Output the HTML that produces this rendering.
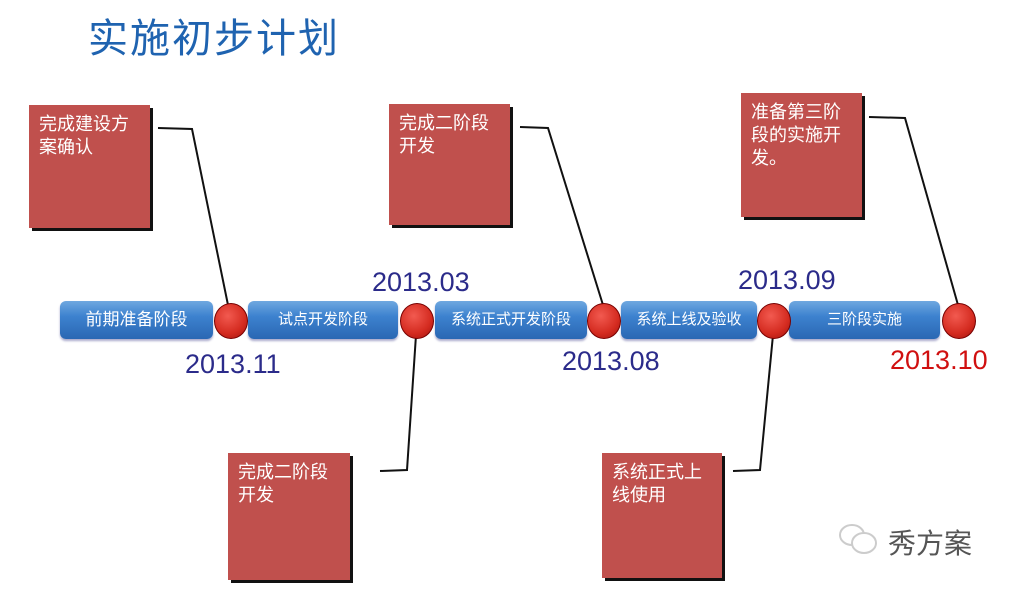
<!DOCTYPE html>
<html><head><meta charset="utf-8"><style>
body{margin:0;width:1021px;height:590px;background:#fff;position:relative;overflow:hidden;font-family:"Liberation Sans","Noto Sans CJK SC",sans-serif}
.t{position:absolute;white-space:nowrap}
.box{position:absolute;background:#c0504d;box-shadow:3px 3px 0 #111;color:#fff;font-size:18px;line-height:23px;padding:8px 10px;box-sizing:border-box;white-space:nowrap}
.bar{position:absolute;top:301px;height:38px;border-radius:6px;background:linear-gradient(#6fa8e0,#3d82cf 40%,#2a67b3);color:#fff;font-size:15px;text-align:center;line-height:38px;box-shadow:0 2px 2px #aac}
.dot{position:absolute;width:32px;height:34px;border-radius:50%;background:radial-gradient(circle at 40% 35%,#f25a50,#d42b20 60%,#a0120c);top:303px;border:1px solid #700}
.d{position:absolute;font-size:27px;color:#2b2b8a}
</style></head><body>
<div class="t" style="left:88px;top:6px;font-size:40px;color:#1f63b0;letter-spacing:2px">实施初步计划</div>
<svg width="1021" height="590" style="position:absolute;left:0;top:0">
<g stroke="#111" stroke-width="2" fill="none">
<polyline points="158,128 192,129 228,305"/>
<polyline points="520,127 548,128 603,305"/>
<polyline points="869,117 905,118 958,305"/>
<polyline points="416,335 407,470 380,471"/>
<polyline points="773,335 760,470 733,471"/>
</g></svg>
<div class="box" style="left:29px;top:105px;width:121px;height:123px">完成建设方<br>案确认</div>
<div class="box" style="left:389px;top:104px;width:121px;height:121px">完成二阶段<br>开发</div>
<div class="box" style="left:741px;top:93px;width:121px;height:124px">准备第三阶<br>段的实施开<br>发。</div>
<div class="box" style="left:228px;top:453px;width:122px;height:127px">完成二阶段<br>开发</div>
<div class="box" style="left:602px;top:453px;width:120px;height:125px">系统正式上<br>线使用</div>
<div class="bar" style="left:60px;width:153px;font-size:17px">前期准备阶段</div>
<div class="bar" style="left:248px;width:150px">试点开发阶段</div>
<div class="bar" style="left:435px;width:152px">系统正式开发阶段</div>
<div class="bar" style="left:621px;width:136px">系统上线及验收</div>
<div class="bar" style="left:789px;width:151px">三阶段实施</div>
<div class="dot" style="left:214px"></div>
<div class="dot" style="left:400px"></div>
<div class="dot" style="left:587px"></div>
<div class="dot" style="left:757px"></div>
<div class="dot" style="left:942px"></div>
<div class="d" style="left:372px;top:267px">2013.03</div>
<div class="d" style="left:185px;top:349px">2013.11</div>
<div class="d" style="left:562px;top:346px">2013.08</div>
<div class="d" style="left:738px;top:265px">2013.09</div>
<div class="d" style="left:890px;top:345px;color:#d01010">2013.10</div>
<svg width="50" height="40" style="position:absolute;left:834px;top:520px"><g fill="none" stroke="#ccc" stroke-width="2"><ellipse cx="18" cy="15" rx="12" ry="10"/><ellipse cx="30" cy="23" rx="12" ry="10" fill="#fff"/></g></svg>
<div class="t" style="left:888px;top:522px;font-size:28px;color:#555">秀方案</div>
</body></html>
